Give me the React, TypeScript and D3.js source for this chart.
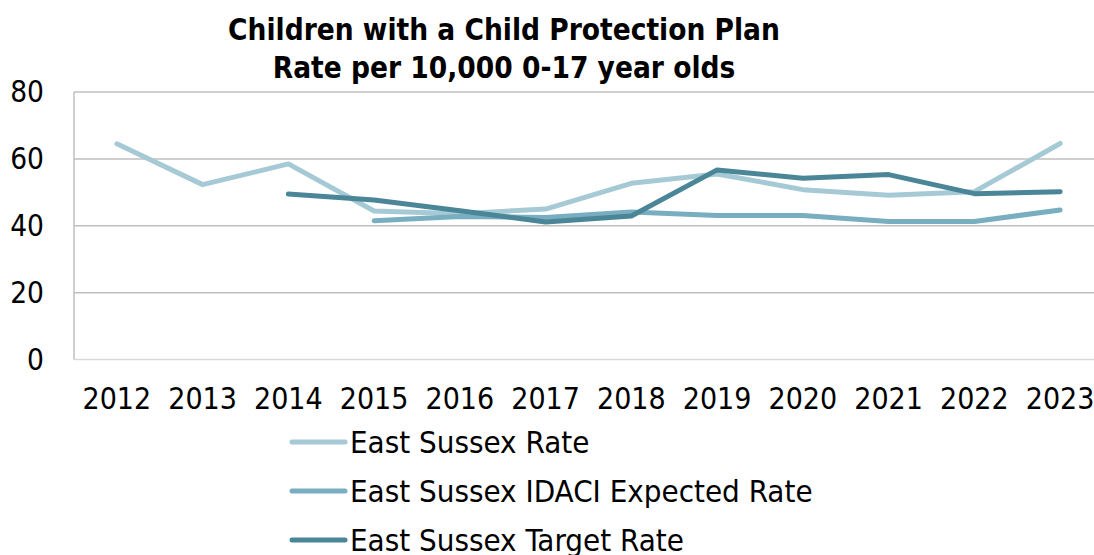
import React from "react";
import * as d3 from "d3";

const years = ["2012","2013","2014","2015","2016","2017","2018","2019","2020","2021","2022","2023"];
const rateValues: (number | null)[] = [64.5, 52.3, 58.5, 44.4, 43.6, 45.0, 52.7, 55.5, 50.8, 49.1, 50.2, 64.6];
const idaciValues: (number | null)[] = [null, null, null, 41.5, 42.8, 42.5, 44.1, 43.1, 43.1, 41.3, 41.3, 44.7];
const targetValues: (number | null)[] = [null, null, 49.5, 47.7, 44.5, 41.1, 42.9, 56.7, 54.2, 55.3, 49.6, 50.2];
const yTicks = [0, 20, 40, 60, 80];
const titleLines = ["Children with a Child Protection Plan", "Rate per 10,000 0-17 year olds"];

const series = [
  { name: "East Sussex Rate", values: rateValues, color: "#a6cad5" },
  { name: "East Sussex IDACI Expected Rate", values: idaciValues, color: "#78aec0" },
  { name: "East Sussex Target Rate", values: targetValues, color: "#4a8598" },
];

const FONT = "'DejaVu Sans Condensed', 'Open Sans', sans-serif";

export default function App() {
  const W = 1094, H = 555;
  const left = 74, right = 1103, top = 92, bottom = 359.5;
  const x = d3.scaleBand<string>().domain(years).range([left, right]);
  const y = d3.scaleLinear().domain([0, 80]).range([bottom, top]);
  const cx = (yr: string) => (x(yr) as number) + x.bandwidth() / 2;

  const line = d3
    .line<number | null>()
    .defined((d) => d !== null)
    .x((_, i) => cx(years[i]))
    .y((d) => y(d as number));

  const legendY0 = 442, legendStep = 49;

  return (
    <svg width={W} height={H} style={{ position: "absolute", left: 0, top: 0, background: "#fff" }}>
      {titleLines.map((t, i) => (
        <text key={t} x={504} y={30 + i * 38} textAnchor="middle" dominantBaseline="central"
          fontFamily={FONT} fontWeight="bold" fontSize={29.5} fill="#000">{t}</text>
      ))}
      {yTicks.map((t) => (
        <line key={t} x1={left} x2={right} y1={y(t)} y2={y(t)}
          stroke={t === 0 ? "#d9d9d9" : "#bfbfbf"} strokeWidth={1.5} />
      ))}
      <line x1={left} x2={left} y1={top} y2={bottom} stroke="#bfbfbf" strokeWidth={1.5} />
      {yTicks.map((t) => (
        <text key={"l" + t} x={44} y={y(t)} textAnchor="end" dominantBaseline="central"
          fontFamily={FONT} fontSize={29.5} fill="#000">{t}</text>
      ))}
      {years.map((yr) => (
        <text key={yr} x={cx(yr)} y={398} textAnchor="middle" dominantBaseline="central"
          fontFamily={FONT} fontSize={30} fill="#000">{yr}</text>
      ))}
      {series.map((s) => (
        <path key={s.name} d={line(s.values) || ""} fill="none" stroke={s.color}
          strokeWidth={5} strokeLinecap="round" strokeLinejoin="round" />
      ))}
      {series.map((s, i) => (
        <g key={"lg" + s.name}>
          <line x1={292} x2={345} y1={legendY0 + i * legendStep} y2={legendY0 + i * legendStep}
            stroke={s.color} strokeWidth={5} strokeLinecap="round" />
          <text x={350} y={legendY0 + i * legendStep} dominantBaseline="central"
            fontFamily={FONT} fontSize={31} fill="#000">{s.name}</text>
        </g>
      ))}
    </svg>
  );
}
